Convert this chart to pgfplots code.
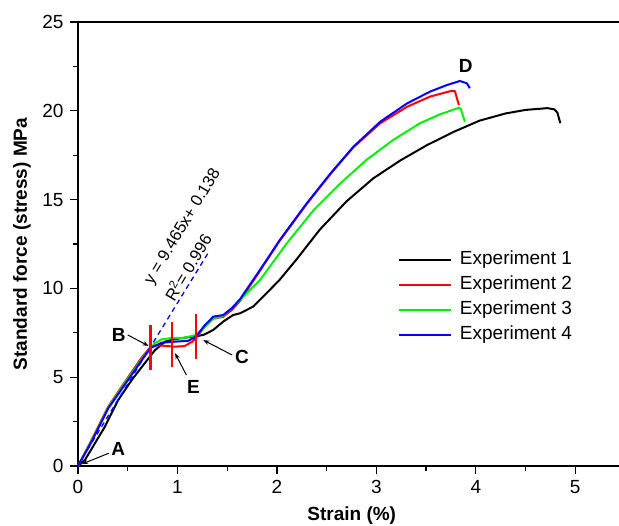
\documentclass[border=0pt]{standalone}
\usepackage{fontspec}
\setmainfont{Liberation Sans}
\usepackage{pgfplots}
\pgfplotsset{compat=1.18}
\usetikzlibrary{arrows.meta}
\definecolor{ered}{RGB}{255,0,0}
\definecolor{egreen}{RGB}{0,240,0}
\definecolor{eblue}{RGB}{0,0,255}

\pgfplotstableread{
x y
0 0
0.07 0.34
0.17 1.28
0.27 2.21
0.405 3.72
0.54 4.84
0.67 5.78
0.775 6.53
0.875 7.0
0.976 7.15
1.11 7.25
1.19 7.3
1.27 7.4
1.36 7.66
1.46 8.13
1.56 8.5
1.63 8.6
1.76 8.97
1.90 9.75
2.03 10.5
2.20 11.65
2.43 13.3
2.70 14.9
2.97 16.2
3.24 17.2
3.51 18.07
3.78 18.82
4.04 19.45
4.30 19.85
4.50 20.05
4.72 20.15
4.79 20.08
4.82 19.9
4.85 19.3
}\expone

\pgfplotstableread{
x y
0 0
0.14 1.5
0.305 3.35
0.473 4.75
0.64 6.1
0.73 6.7
0.80 6.8
0.90 6.75
0.976 6.72
1.07 6.75
1.15 7.0
1.19 7.25
1.27 7.8
1.36 8.3
1.46 8.4
1.55 8.8
1.63 9.3
1.83 11.0
2.03 12.7
2.30 14.75
2.54 16.45
2.77 17.95
3.04 19.3
3.31 20.23
3.54 20.8
3.76 21.13
3.79 21.1
3.83 20.33
}\exptwo

\pgfplotstableread{
x y
0 0
0.14 1.45
0.305 3.3
0.473 4.7
0.64 6.0
0.73 6.65
0.77 6.9
0.84 7.13
0.94 7.2
1.07 7.22
1.19 7.38
1.27 7.8
1.36 8.3
1.46 8.45
1.56 8.97
1.83 10.47
2.10 12.54
2.37 14.41
2.64 15.92
2.90 17.23
3.17 18.36
3.44 19.3
3.64 19.8
3.83 20.17
3.85 20.1
3.89 19.39
}\expthree

\pgfplotstableread{
x y
0 0
0.14 1.4
0.305 3.25
0.473 4.6
0.64 5.95
0.73 6.65
0.84 6.94
0.97 7.0
1.11 7.05
1.19 7.3
1.27 7.9
1.36 8.41
1.46 8.5
1.55 8.9
1.63 9.4
1.83 11.04
2.03 12.73
2.30 14.79
2.54 16.48
2.77 17.98
3.04 19.39
3.31 20.42
3.54 21.08
3.71 21.45
3.84 21.68
3.91 21.55
3.94 21.27
}\expfour

\begin{document}
\fontsize{19bp}{22bp}\selectfont
\begin{tikzpicture}
\begin{axis}[
  name=ax,
  scale only axis, width=541bp, height=444bp,
  xmin=0, xmax=5.44, ymin=0, ymax=25,
  clip=false,
  axis x line*=bottom, axis y line*=left,
  axis line style={line width=1.8bp, -},
  xtick={0,1,2,3,4,5}, ytick={0,5,10,15,20,25},
  minor x tick num=1, minor y tick num=1,
  tick align=outside,
  major tick length=8bp, minor tick length=5bp,
  every tick/.style={black, line width=1.3bp},
  tick label style={font=\fontsize{19bp}{22bp}\selectfont},
  /pgf/number format/assume math mode=true,
  xlabel={\bfseries Strain (\%)},
  ylabel={\bfseries Standard force (stress) MPa},
  xlabel style={at={(axis description cs:0.506,0)}, anchor=center, yshift=-50bp, font=\fontsize{19bp}{22bp}\selectfont},
  ylabel style={at={(axis description cs:-0.1035,0.5)}, anchor=center, font=\fontsize{19bp}{22bp}\selectfont},
  legend style={at={(axis description cs:0.592,0.493)}, anchor=north west, draw=none, fill=none, inner sep=0pt,
    font=\fontsize{19bp}{22bp}\selectfont,
    nodes={text height=13.5bp, text depth=4.5bp, inner sep=3.5bp},
    /tikz/every odd column/.append style={column sep=4bp}},
  legend cell align=left,
  legend image code/.code={\draw[#1, line width=2bp] (0bp,0bp) -- (52bp,0bp);},
]
\addplot[black, line width=2bp] table {\expone};
\addlegendentry{Experiment 1}
\addplot[ered, line width=2bp] table {\exptwo};
\addlegendentry{Experiment 2}
\addplot[egreen, line width=2bp] table {\expthree};
\addlegendentry{Experiment 3}
\addplot[eblue, line width=2bp] table {\expfour};
\addlegendentry{Experiment 4}

% fitted line
\addplot[eblue, dash pattern=on 5bp off 4bp, line width=1.3bp, forget plot] coordinates {(0,0.05) (1.32,12.1)};
% region markers
\addplot[ered, line width=2.2bp, forget plot] coordinates {(0.73,5.4) (0.73,7.94)};
\addplot[ered, line width=2.2bp, forget plot] coordinates {(0.946,5.6) (0.946,8.1)};
\addplot[ered, line width=2.2bp, forget plot] coordinates {(1.19,6.0) (1.19,8.56)};

\draw[line width=1.8bp] (rel axis cs:0,1) -- (rel axis cs:1,1);

\node[rotate=59, font=\fontsize{16.5bp}{18bp}\selectfont] at (axis cs:1.056,13.46) {y = 9.465x+ 0.138};
\node[rotate=59, font=\fontsize{16.5bp}{18bp}\selectfont] at (axis cs:1.10,11.2) {R\textsuperscript{2}= 0.996};

\node[font=\fontsize{19bp}{22bp}\selectfont\bfseries] at (axis cs:0.405,0.96) {A};
\node[font=\fontsize{19bp}{22bp}\selectfont\bfseries] at (axis cs:0.41,7.4) {B};
\node[font=\fontsize{19bp}{22bp}\selectfont\bfseries] at (axis cs:1.65,6.15) {C};
\node[font=\fontsize{19bp}{22bp}\selectfont\bfseries] at (axis cs:3.90,22.5) {D};
\node[font=\fontsize{19bp}{22bp}\selectfont\bfseries] at (axis cs:1.16,4.47) {E};

\draw[line width=1bp, -{Stealth[length=6bp,width=4.5bp]}] (axis cs:0.31,0.72) -- (axis cs:0.04,0.11);
\draw[line width=1bp, -{Stealth[length=6bp,width=4.5bp]}] (axis cs:0.50,7.38) -- (axis cs:0.71,6.76);
\draw[line width=1bp, -{Stealth[length=6bp,width=4.5bp]}] (axis cs:1.55,6.25) -- (axis cs:1.26,7.09);
\draw[line width=1bp, -{Stealth[length=6bp,width=4.5bp]}] (axis cs:1.09,5.12) -- (axis cs:0.976,6.35);
\end{axis}
\pgfresetboundingbox
\path[use as bounding box] ([shift={(-78bp,-60bp)}]ax.south west) rectangle ([shift={(541bp,466bp)}]ax.south west);
\end{tikzpicture}
\end{document}
